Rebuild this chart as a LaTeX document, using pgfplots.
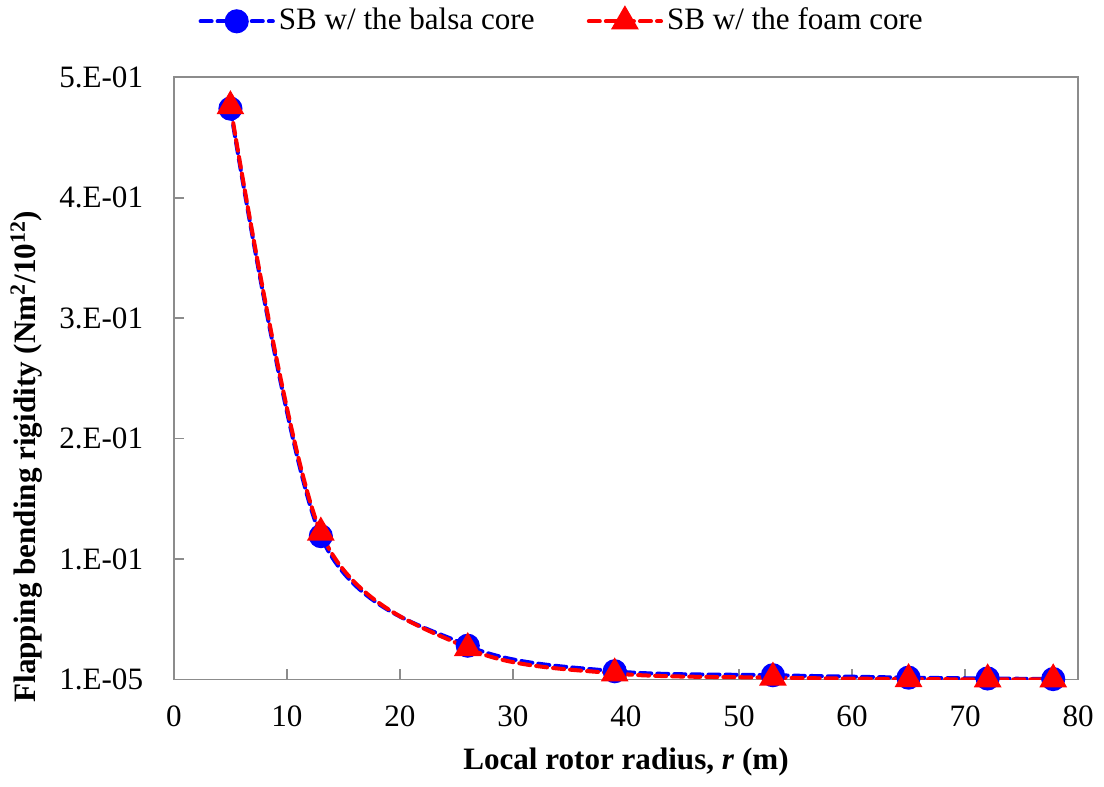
\documentclass[border=0pt]{standalone}
\usepackage{pgfplots}
\pgfplotsset{compat=1.18}
\usepackage{fontspec}
\setmainfont{Liberation Serif}

\definecolor{balsa}{RGB}{0,0,255}
\definecolor{foam}{RGB}{255,0,0}
\definecolor{axgray}{RGB}{140,140,140}

\begin{document}
\fontsize{15.5pt}{18pt}\selectfont
\begin{tikzpicture}
\begin{axis}[
  scale only axis,
  width=450.5pt, height=300pt,
  xmin=0, xmax=80, ymin=0, ymax=0.5,
  xtick={0,10,...,80},
  ytick={0,0.1,0.2,0.3,0.4,0.5},
  yticklabels={1.E-05,1.E-01,2.E-01,3.E-01,4.E-01,5.E-01},
  /pgf/number format/assume math mode=true,
  tick label style={font=\fontsize{15.5pt}{18pt}\selectfont},
  axis line style={axgray, line width=0.9pt},
  tick style={axgray, line width=0.8pt},
  tick align=inside,
  major tick length=5pt,
  xtick pos=bottom, ytick pos=left,
  xticklabel style={yshift=-8pt},
  yticklabel style={xshift=-10pt},
  xlabel={\bfseries Local rotor radius, \textit{r} (m)},
  ylabel={\bfseries Flapping bending rigidity (Nm$^{\mathbf{2}}$/10$^{\mathbf{12}}$)},
  label style={font=\fontsize{15.5pt}{18pt}\selectfont\bfseries},
  xlabel style={yshift=0pt},
  ylabel style={at={(ticklabel cs:0.37)}, yshift=-2pt},
  legend columns=2,
  legend style={draw=none, fill=none, at={(0.43,1.093)}, anchor=center,
    font=\fontsize{15.5pt}{18pt}\selectfont,
    /tikz/every even column/.append style={column sep=24pt}},
  legend image code/.code={
    \draw[#1, mark=none] (0pt,0pt) -- (36pt,0pt);
    \draw[#1, solid] plot coordinates {(18pt,0pt)};
  },
]
\addplot[balsa, line width=2pt, dash pattern=on 5.5pt off 3pt, line cap=round,
  smooth, mark=*, mark size=5pt, mark options={solid, fill=balsa, draw=balsa}]
  coordinates {
  (5,0.474) (13,0.119) (26,0.028) (39,0.0068) (53,0.0035) (65,0.0015) (72,0.0008) (77.8,0.0003)
  };
\addlegendentry{SB w/ the balsa core}
\addplot[foam, line width=2pt, dash pattern=on 5.5pt off 3pt, line cap=round,
  smooth, mark=triangle*, mark size=6pt, mark options={solid, fill=foam, draw=foam}]
  coordinates {
  (5,0.476) (13,0.122) (26,0.026) (39,0.005) (53,0.0015) (65,0.0003) (72,0.0001) (77.8,0.0001)
  };
\addlegendentry{SB w/ the foam core}
\end{axis}
\end{tikzpicture}
\end{document}
